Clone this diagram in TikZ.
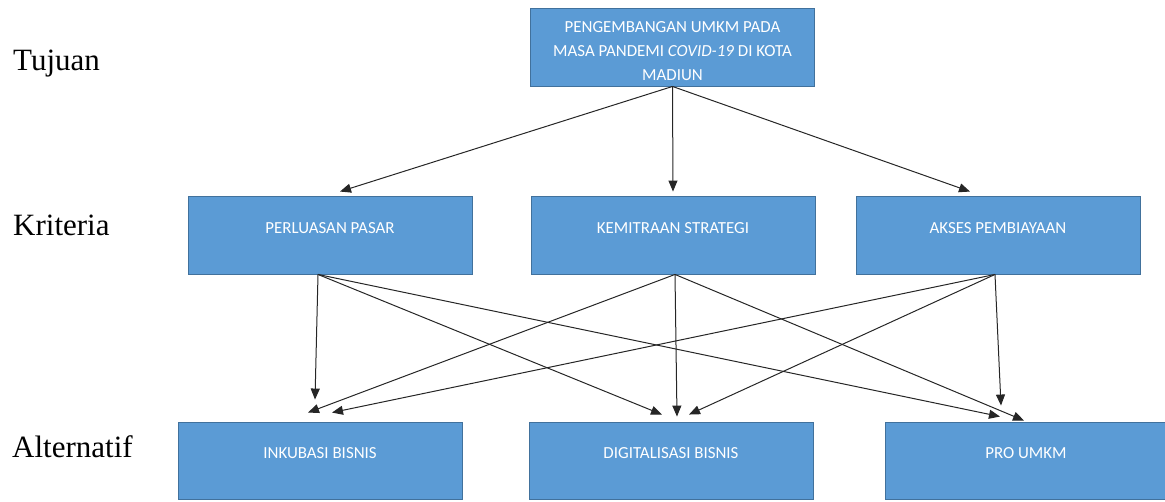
\documentclass[tikz,border=0pt]{standalone}
\usepackage{fontspec}
\setmainfont{Liberation Serif}
\newfontfamily\boxfont{Carlito}
\usetikzlibrary{arrows.meta}

\definecolor{boxfill}{HTML}{5B9BD5}
\definecolor{boxline}{HTML}{41719C}

\begin{document}
\begin{tikzpicture}[
        x=1pt,y=-1pt,
        >={Triangle[length=11pt,width=9pt]},
        link/.style={->,line width=1pt,black!85},
        level/.style={anchor=base west,inner sep=0pt,font=\fontsize{31}{36}\selectfont},
        box/.style={rectangle,fill=boxfill,draw=boxline,line width=0.9pt,
            text=white,font=\boxfont\fontsize{16.9}{24}\selectfont,
            minimum width=284pt,inner xsep=0pt},
        critbox/.style={box,inner ysep=0pt,text height=37pt,text depth=41pt},
        altbox/.style={box,inner ysep=0pt,text height=36pt,text depth=41pt}
    ]
    \useasboundingbox (0,0) rectangle (1165,501);

    % Levels
    \node[level] (tujuan) at (13,70) {Tujuan};
    \node[level] (kriteria) at (13,235) {Kriteria};
    \node[level] (alternatif) at (12,457) {Alternatif};

    % Goal
    \node[box,minimum height=78pt,align=center] (goal) at (672.5,47)
        {\rule{0pt}{19pt}PENGEMBANGAN UMKM PADA\\
         MASA PANDEMI \textit{COVID-19} DI KOTA\\
         MADIUN};

    % Criteria
    \node[critbox] (pasar) at (330,235) {PERLUASAN PASAR};
    \node[critbox] (mitra) at (673,235) {KEMITRAAN STRATEGI};
    \node[critbox] (biaya) at (998,235) {AKSES PEMBIAYAAN};

    % Alternatives
    \node[altbox] (inkubasi) at (320,460.5) {INKUBASI BISNIS};
    \node[altbox] (digital) at (671,460.5) {DIGITALISASI BISNIS};
    \node[altbox,minimum width=282pt] (pro) at (1026,460.5) {PRO UMKM};

    % Goal to criteria
    \draw[link] (goal.south) -- ([xshift=10pt,yshift=4pt]pasar.north);
    \draw[link] (goal.south) -- ([yshift=4pt]mitra.north);
    \draw[link] (goal.south) -- ([xshift=-28pt,yshift=4pt]biaya.north);

    % Criteria to alternatives
    \draw[link] ([xshift=-12pt]pasar.south) -- ([xshift=-5pt,yshift=22pt]inkubasi.north);
    \draw[link] ([xshift=-12pt]pasar.south) -- ([xshift=-9pt,yshift=7pt]digital.north);
    \draw[link] ([xshift=-12pt]pasar.south) -- ([xshift=-26pt,yshift=5pt]pro.north);

    \draw[link] ([xshift=2pt]mitra.south) -- ([xshift=-12pt,yshift=9pt]inkubasi.north);
    \draw[link] ([xshift=2pt]mitra.south) -- ([xshift=6pt,yshift=5pt]digital.north);
    \draw[link] ([xshift=2pt]mitra.south) -- ([xshift=-2pt,yshift=1pt]pro.north);

    \draw[link] ([xshift=-3pt]biaya.south) -- ([xshift=12pt,yshift=9pt]inkubasi.north);
    \draw[link] ([xshift=-3pt]biaya.south) -- ([xshift=18pt,yshift=7pt]digital.north);
    \draw[link] ([xshift=-3pt]biaya.south) -- ([xshift=-25pt,yshift=16pt]pro.north);

\end{tikzpicture}
\end{document}
